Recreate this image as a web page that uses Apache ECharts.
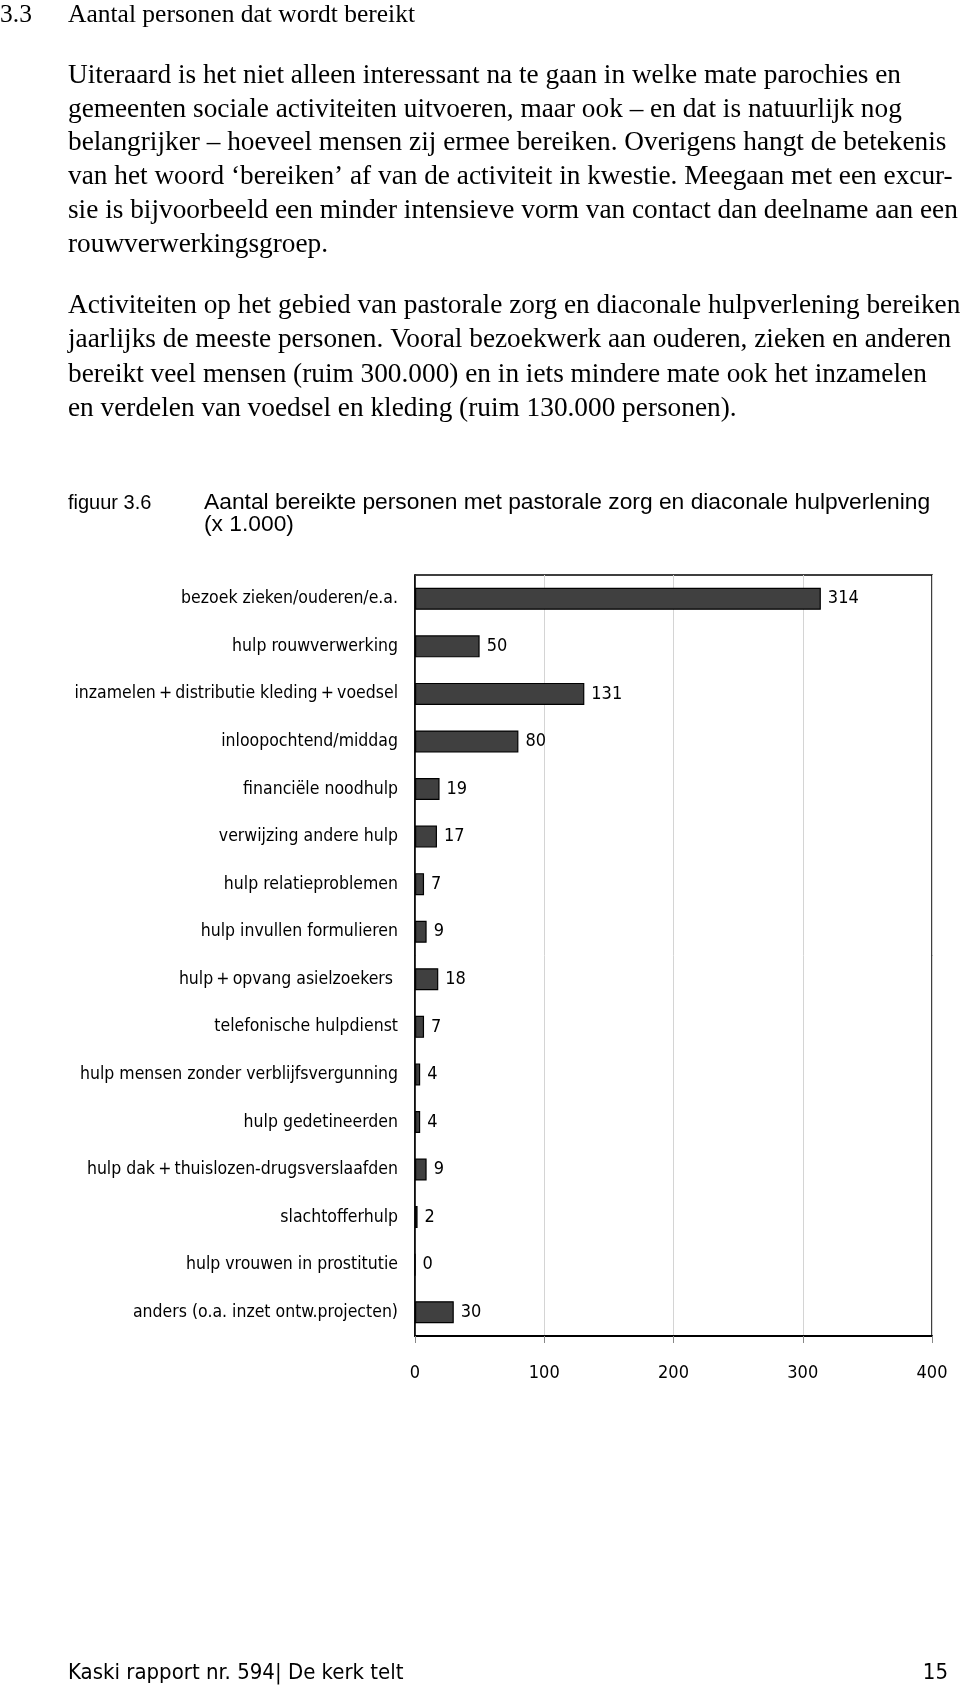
<!DOCTYPE html>
<html><head><meta charset="utf-8">
<script src="https://cdn.jsdelivr.net/npm/echarts@6/dist/echarts.min.js"></script>
<style>
html,body{margin:0;padding:0;background:#fff;width:960px;height:1687px;overflow:hidden}
#chart{position:absolute;left:0;top:0;width:960px;height:1687px}
</style></head>
<body><div id="chart"></div>
<script>
const categories = [
  'bezoek zieken/ouderen/e.a.',
  'hulp rouwverwerking',
  'inzamelen\u2009+\u2009distributie kleding\u2009+\u2009voedsel',
  'inloopochtend/middag',
  'financiële noodhulp',
  'verwijzing andere hulp',
  'hulp relatieproblemen',
  'hulp invullen formulieren',
  'hulp\u2009+\u2009opvang asielzoekers ',
  'telefonische hulpdienst',
  'hulp mensen zonder verblijfsvergunning',
  'hulp gedetineerden',
  'hulp dak\u2009+\u2009thuislozen-drugsverslaafden',
  'slachtofferhulp',
  'hulp vrouwen in prostitutie',
  'anders (o.a. inzet ontw.projecten)'
];
const values = [314, 50, 131, 80, 19, 17, 7, 9, 18, 7, 4, 4, 9, 2, 0, 30];
const xMin = 0, xMax = 400, xStep = 100;

const heading = ['3.3', 'Aantal personen dat wordt bereikt'];
const para1 = [
  'Uiteraard is het niet alleen interessant na te gaan in welke mate parochies en',
  'gemeenten sociale activiteiten uitvoeren, maar ook – en dat is natuurlijk nog',
  'belangrijker – hoeveel mensen zij ermee bereiken. Overigens hangt de betekenis',
  'van het woord ‘bereiken’ af van de activiteit in kwestie. Meegaan met een excur-',
  'sie is bijvoorbeeld een minder intensieve vorm van contact dan deelname aan een',
  'rouwverwerkingsgroep.'
];
const para2 = [
  'Activiteiten op het gebied van pastorale zorg en diaconale hulpverlening bereiken',
  'jaarlijks de meeste personen. Vooral bezoekwerk aan ouderen, zieken en anderen',
  'bereikt veel mensen (ruim 300.000) en in iets mindere mate ook het inzamelen',
  'en verdelen van voedsel en kleding (ruim 130.000 personen).'
];
const figLabel = 'figuur 3.6';
const figTitle = ['Aantal bereikte personen met pastorale zorg en diaconale hulpverlening', '(x 1.000)'];
const footer = ['Kaski rapport nr. 594| De kerk telt', '15'];

const SERIF = "'Liberation Serif', 'DejaVu Serif', serif";
const SANS = "'Liberation Sans', Arial, sans-serif";
const NARROW = "'Liberation Sans Narrow', 'DejaVu Sans Condensed', sans-serif";

function txt(x, y, text, font, align) {
  return { type: 'text', x: x, y: y, silent: true,
    style: { text: text, font: font, fill: '#000', textAlign: align || 'left', textVerticalAlign: 'middle' } };
}
const graphics = [];
graphics.push(txt(0, 15, heading[0], '25.5px ' + SERIF));
graphics.push(txt(68, 15, heading[1], '25.5px ' + SERIF));
const p1y = [76, 110, 143, 177, 211, 245];
para1.forEach((l, i) => graphics.push(txt(68, p1y[i], l, '27.3px ' + SERIF)));
const p2y = [306, 340, 375, 409];
para2.forEach((l, i) => graphics.push(txt(68, p2y[i], l, '27.3px ' + SERIF)));
graphics.push(txt(68, 503, figLabel, '20px ' + SANS));
graphics.push(txt(204, 503, figTitle[0], '22.8px ' + SANS));
graphics.push(txt(204, 525, figTitle[1], '22.8px ' + SANS));
graphics.push(txt(68, 1673, footer[0], '22px ' + NARROW));
graphics.push(txt(948, 1673, footer[1], '22px ' + NARROW, 'right'));

const chart = echarts.init(document.getElementById('chart'), null, { renderer: 'canvas' });
chart.setOption({
  backgroundColor: '#fff',
  animation: false,
  graphic: graphics,
  grid: { left: 415, right: 28, top: 575, height: 761, show: true, borderColor: '#000', borderWidth: 1.5, containLabel: false },
  xAxis: {
    type: 'value', min: xMin, max: xMax, interval: xStep,
    axisLine: { show: true, lineStyle: { color: '#000', width: 2 } },
    axisTick: { show: true, length: 7, lineStyle: { color: '#888' } },
    splitLine: { show: true, lineStyle: { color: '#d4d4d4', width: 1 } },
    axisLabel: { margin: 28, fontSize: 18, color: '#000', fontFamily: NARROW }
  },
  yAxis: {
    type: 'category', data: categories, inverse: true,
    axisLine: { show: true, lineStyle: { color: '#000', width: 1.5 } },
    axisTick: { show: false },
    axisLabel: { margin: 17, fontSize: 17.5, color: '#000', fontFamily: NARROW }
  },
  series: [{
    type: 'bar', data: values, barWidth: 22,
    itemStyle: { color: '#404040', borderColor: '#000', borderWidth: 1.2 },
    label: { show: true, position: 'right', distance: 7, fontSize: 18, color: '#000', fontFamily: NARROW }
  }]
});
</script></body></html>
